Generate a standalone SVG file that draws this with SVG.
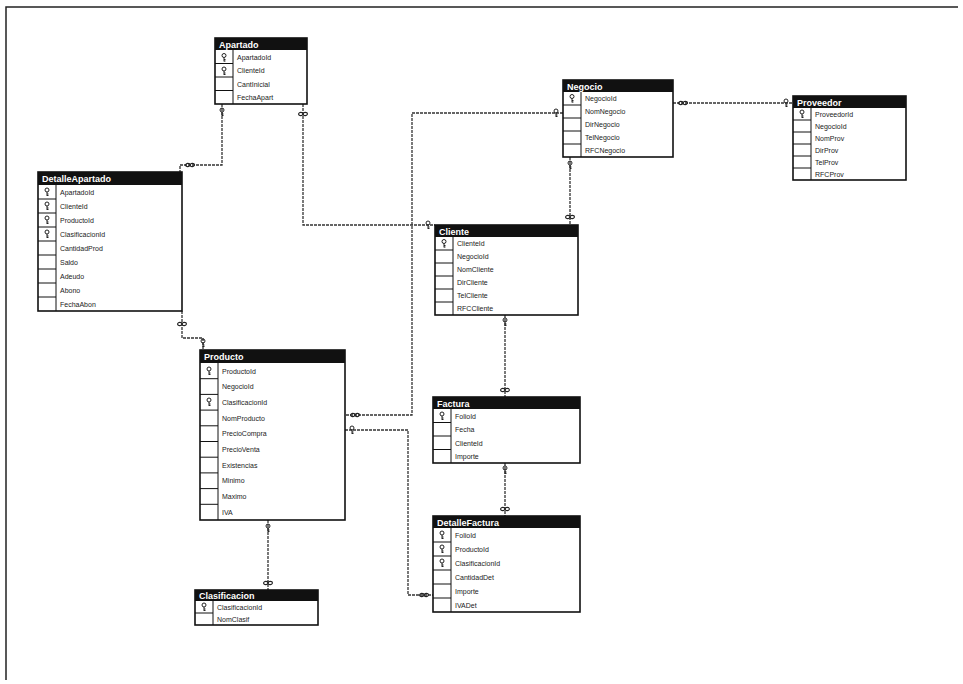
<svg xmlns="http://www.w3.org/2000/svg" width="963" height="684" viewBox="0 0 963 684">
<defs>
  <style>
    .frame{fill:none;stroke:#222;stroke-width:1.5}
    .head{fill:#111}
    .htxt{font-family:"Liberation Sans",Arial,sans-serif;font-size:9px;font-weight:bold;fill:#fff}
    .body{fill:#fff;stroke:#111;stroke-width:1.6}
    .col{stroke:#111;stroke-width:1}
    .sep{stroke:#111;stroke-width:1}
    .rtxt{font-family:"Liberation Sans",Arial,sans-serif;font-size:7px;fill:#222}
    .link{fill:none;stroke:#333;stroke-width:1.3;stroke-dasharray:3 1}
    .inf{fill:none;stroke:#222;stroke-width:1.1}
    .key{fill:none;stroke:#222;stroke-width:1}
  </style>
  <!-- small primary-key glyph -->
  <g id="k">
    <circle cx="0" cy="-2" r="2" class="key"/>
    <path d="M0,0 V4 M0,2 H1.5 M0,3.5 H1.5" class="key"/>
  </g>
  <!-- "many" end: infinity sign -->
  <g id="m">
    <ellipse cx="-2.2" cy="0" rx="2.2" ry="1.6" class="inf"/>
    <ellipse cx="2.2" cy="0" rx="2.2" ry="1.6" class="inf"/>
  </g>
</defs>

<rect width="963" height="684" fill="#fff"/>
<path class="frame" d="M6,680 V7 H958"/>

<!-- relationships -->
<g id="connectors">
  <path class="link" d="M222,104 V165 H180 V172"/>
  <path class="link" d="M182,311 V338 H203 V350"/>
  <path class="link" d="M303,104 V225 H435"/>
  <path class="link" d="M673,103 H793"/>
  <path class="link" d="M570,157 V225"/>
  <path class="link" d="M563,113 H412 V415 H345"/>
  <path class="link" d="M345,430 H408 V595 H433"/>
  <path class="link" d="M505,315 V397"/>
  <path class="link" d="M505,463 V516"/>
  <path class="link" d="M268,520 V590"/>
  <use href="#k" x="222" y="112"/>
  <use href="#m" x="190" y="165"/>
  <use href="#m" x="182" y="324"/>
  <use href="#k" x="203" y="343"/>
  <use href="#m" x="303" y="114"/>
  <use href="#k" x="428" y="225"/>
  <use href="#m" x="683" y="103"/>
  <use href="#k" x="786" y="103"/>
  <use href="#k" x="570" y="165"/>
  <use href="#m" x="570" y="217"/>
  <use href="#k" x="556" y="113"/>
  <use href="#m" x="355" y="415"/>
  <use href="#k" x="352" y="430"/>
  <use href="#m" x="424" y="595"/>
  <use href="#k" x="505" y="322"/>
  <use href="#m" x="505" y="390"/>
  <use href="#k" x="505" y="470"/>
  <use href="#m" x="505" y="509"/>
  <use href="#k" x="268" y="528"/>
  <use href="#m" x="268" y="583"/>
</g>

<!-- Apartado -->
<g id="Apartado">
  <rect class="body" x="215" y="38" width="92" height="66"/>
  <rect class="head" x="215" y="38" width="92" height="12"/>
  <text class="htxt" x="219" y="47.5">Apartado</text>
  <line class="col" x1="233" y1="50" x2="233" y2="104"/>
  <path class="sep" d="M215,63.5 H233 M215,77 H233 M215,90.5 H233"/>
  <use href="#k" x="224" y="57.5"/><use href="#k" x="224" y="71"/>
  <text class="rtxt" x="237" y="59.5">ApartadoId</text>
  <text class="rtxt" x="237" y="73">ClienteId</text>
  <text class="rtxt" x="237" y="86.5">CantInicial</text>
  <text class="rtxt" x="237" y="100">FechaApart</text>
</g>

<!-- DetalleApartado -->
<g id="DetalleApartado">
  <rect class="body" x="38" y="172" width="144" height="139"/>
  <rect class="head" x="38" y="172" width="144" height="13"/>
  <text class="htxt" x="42" y="182">DetalleApartado</text>
  <line class="col" x1="56" y1="185" x2="56" y2="311"/>
  <path class="sep" d="M38,199 H56 M38,213 H56 M38,227 H56 M38,241 H56 M38,255 H56 M38,269 H56 M38,283 H56 M38,297 H56"/>
  <use href="#k" x="47" y="192"/><use href="#k" x="47" y="206"/><use href="#k" x="47" y="220"/><use href="#k" x="47" y="234"/>
  <text class="rtxt" x="60" y="194.5">ApartadoId</text>
  <text class="rtxt" x="60" y="208.5">ClienteId</text>
  <text class="rtxt" x="60" y="222.5">ProductoId</text>
  <text class="rtxt" x="60" y="236.5">ClasificacionId</text>
  <text class="rtxt" x="60" y="250.5">CantidadProd</text>
  <text class="rtxt" x="60" y="264.5">Saldo</text>
  <text class="rtxt" x="60" y="278.5">Adeudo</text>
  <text class="rtxt" x="60" y="292.5">Abono</text>
  <text class="rtxt" x="60" y="306.5">FechaAbon</text>
</g>

<!-- Negocio -->
<g id="Negocio">
  <rect class="body" x="563" y="80" width="110" height="77"/>
  <rect class="head" x="563" y="80" width="110" height="12"/>
  <text class="htxt" x="567" y="89.5">Negocio</text>
  <line class="col" x1="581" y1="92" x2="581" y2="157"/>
  <path class="sep" d="M563,105 H581 M563,118 H581 M563,131 H581 M563,144 H581"/>
  <use href="#k" x="572" y="98.5"/>
  <text class="rtxt" x="585" y="101">NegocioId</text>
  <text class="rtxt" x="585" y="114">NomNegocio</text>
  <text class="rtxt" x="585" y="127">DirNegocio</text>
  <text class="rtxt" x="585" y="140">TelNegocio</text>
  <text class="rtxt" x="585" y="153">RFCNegocio</text>
</g>

<!-- Proveedor -->
<g id="Proveedor">
  <rect class="body" x="793" y="96" width="113" height="84"/>
  <rect class="head" x="793" y="96" width="113" height="12"/>
  <text class="htxt" x="797" y="105.5">Proveedor</text>
  <line class="col" x1="811" y1="108" x2="811" y2="180"/>
  <path class="sep" d="M793,120 H811 M793,132 H811 M793,144 H811 M793,156 H811 M793,168 H811"/>
  <use href="#k" x="802" y="114"/>
  <text class="rtxt" x="815" y="116.5">ProveedorId</text>
  <text class="rtxt" x="815" y="128.5">NegocioId</text>
  <text class="rtxt" x="815" y="140.5">NomProv</text>
  <text class="rtxt" x="815" y="152.5">DirProv</text>
  <text class="rtxt" x="815" y="164.5">TelProv</text>
  <text class="rtxt" x="815" y="176.5">RFCProv</text>
</g>

<!-- Cliente -->
<g id="Cliente">
  <rect class="body" x="435" y="225" width="143" height="90"/>
  <rect class="head" x="435" y="225" width="143" height="12"/>
  <text class="htxt" x="439" y="234.5">Cliente</text>
  <line class="col" x1="453" y1="237" x2="453" y2="315"/>
  <path class="sep" d="M435,250 H453 M435,263 H453 M435,276 H453 M435,289 H453 M435,302 H453"/>
  <use href="#k" x="444" y="243.5"/>
  <text class="rtxt" x="457" y="246">ClienteId</text>
  <text class="rtxt" x="457" y="259">NegocioId</text>
  <text class="rtxt" x="457" y="272">NomCliente</text>
  <text class="rtxt" x="457" y="285">DirCliente</text>
  <text class="rtxt" x="457" y="298">TelCliente</text>
  <text class="rtxt" x="457" y="311">RFCCliente</text>
</g>

<!-- Producto -->
<g id="Producto">
  <rect class="body" x="200" y="350" width="145" height="170"/>
  <rect class="head" x="200" y="350" width="145" height="13"/>
  <text class="htxt" x="204" y="360">Producto</text>
  <line class="col" x1="218" y1="363" x2="218" y2="520"/>
  <path class="sep" d="M200,378.7 H218 M200,394.4 H218 M200,410.1 H218 M200,425.8 H218 M200,441.5 H218 M200,457.2 H218 M200,472.9 H218 M200,488.6 H218 M200,504.3 H218"/>
  <use href="#k" x="209" y="371"/><use href="#k" x="209" y="402"/>
  <text class="rtxt" x="222" y="373.5">ProductoId</text>
  <text class="rtxt" x="222" y="389.2">NegocioId</text>
  <text class="rtxt" x="222" y="404.9">ClasificacionId</text>
  <text class="rtxt" x="222" y="420.6">NomProducto</text>
  <text class="rtxt" x="222" y="436.3">PrecioCompra</text>
  <text class="rtxt" x="222" y="452">PrecioVenta</text>
  <text class="rtxt" x="222" y="467.7">Existencias</text>
  <text class="rtxt" x="222" y="483.4">Minimo</text>
  <text class="rtxt" x="222" y="499.1">Maximo</text>
  <text class="rtxt" x="222" y="514.8">IVA</text>
</g>

<!-- Factura -->
<g id="Factura">
  <rect class="body" x="433" y="397" width="147" height="66"/>
  <rect class="head" x="433" y="397" width="147" height="12"/>
  <text class="htxt" x="437" y="406.5">Factura</text>
  <line class="col" x1="451" y1="409" x2="451" y2="463"/>
  <path class="sep" d="M433,422.5 H451 M433,436 H451 M433,449.5 H451"/>
  <use href="#k" x="442" y="416"/>
  <text class="rtxt" x="455" y="418.5">FolioId</text>
  <text class="rtxt" x="455" y="432">Fecha</text>
  <text class="rtxt" x="455" y="445.5">ClienteId</text>
  <text class="rtxt" x="455" y="459">Importe</text>
</g>

<!-- DetalleFactura -->
<g id="DetalleFactura">
  <rect class="body" x="433" y="516" width="147" height="96"/>
  <rect class="head" x="433" y="516" width="147" height="12"/>
  <text class="htxt" x="437" y="525.5">DetalleFactura</text>
  <line class="col" x1="451" y1="528" x2="451" y2="612"/>
  <path class="sep" d="M433,542 H451 M433,556 H451 M433,570 H451 M433,584 H451 M433,598 H451"/>
  <use href="#k" x="442" y="535"/><use href="#k" x="442" y="549"/><use href="#k" x="442" y="563"/>
  <text class="rtxt" x="455" y="537.5">FolioId</text>
  <text class="rtxt" x="455" y="551.5">ProductoId</text>
  <text class="rtxt" x="455" y="565.5">ClasificacionId</text>
  <text class="rtxt" x="455" y="579.5">CantidadDet</text>
  <text class="rtxt" x="455" y="593.5">Importe</text>
  <text class="rtxt" x="455" y="607.5">IVADet</text>
</g>

<!-- Clasificacion -->
<g id="Clasificacion">
  <rect class="body" x="195" y="590" width="123" height="35"/>
  <rect class="head" x="195" y="590" width="123" height="11"/>
  <text class="htxt" x="199" y="598.5">Clasificacion</text>
  <line class="col" x1="213" y1="601" x2="213" y2="625"/>
  <path class="sep" d="M195,613 H213"/>
  <use href="#k" x="204" y="607"/>
  <text class="rtxt" x="217" y="609.5">ClasificacionId</text>
  <text class="rtxt" x="217" y="621.5">NomClasif</text>
</g>
</svg>
